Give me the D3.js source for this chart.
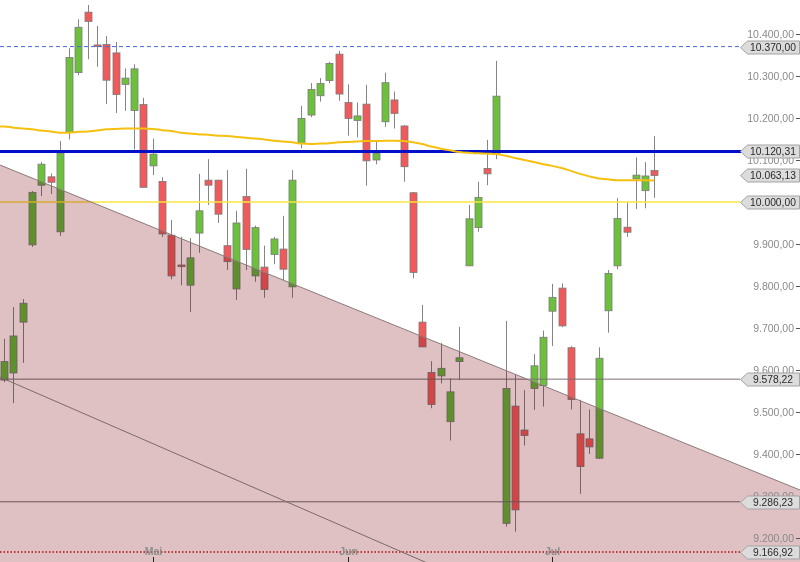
<!DOCTYPE html>
<html><head><meta charset="utf-8">
<script src="https://cdn.jsdelivr.net/npm/d3@7/dist/d3.min.js"></script>
<style>html,body{margin:0;padding:0;background:#fff;overflow:hidden}</style>
</head><body><svg id="c" width="800" height="562"></svg>
<script>
// ---- data ----
const opens  = [9576,9593,9714,9898,10040,10060,9929,10166,10308,10452,10374,10375,10355,10280,10218,10232,10086,10049,9921,9850,9802,9926,10052,10052,9896,9793,10013,9824,9845,9875,9888,9798,10140,10207,10253,10289,10352,10237,10194,10233,10100,10191,10243,10181,10022,9714,9594,9586,9477,9620,9848,9939,10080,10116,9235,9514,9457,9556,9563,9740,9795,9653,9448,9436,9390,9741,9848,9940,10055,10027,10075];
const highs  = [9674,9750,9769,10026,10095,10068,10145,10366,10435,10469,10419,10395,10381,10318,10328,10248,10151,10059,9957,9917,9914,10067,10102,10052,10076,9979,10079,9944,9896,9917,9967,10076,10229,10283,10295,10334,10360,10280,10237,10279,10144,10308,10263,10183,10024,9755,9621,9664,9580,9703,9993,10048,10148,10336,9717,9588,9552,9638,9694,9805,9806,9657,9529,9506,9654,9838,10009,9999,10106,10095,10157];
const lows   = [9571,9521,9617,9893,10014,10019,9919,10149,10302,10340,10322,10233,10212,10217,10125,10035,10064,9917,9816,9802,9738,9879,9993,9950,9838,9767,9838,9810,9772,9852,9814,9772,10128,10202,10239,10283,10241,10158,10154,10039,10090,10179,10175,10048,9818,9655,9509,9568,9432,9576,9848,9929,10040,10102,9227,9215,9420,9505,9513,9657,9702,9506,9305,9400,9388,9689,9840,9917,9983,9985,10010];
const closes = [9620,9681,9759,10023,10090,10047,10116,10344,10416,10430,10370,10290,10256,10295,10317,10035,10114,9924,9824,9846,9867,9979,10040,9971,9858,9950,9887,9939,9792,9912,9840,10052,10199,10268,10282,10330,10257,10199,10205,10098,10116,10284,10211,10084,9832,9655,9518,9604,9548,9629,9960,10011,10067,10252,9556,9267,9444,9610,9678,9773,9705,9530,9370,9417,9628,9830,9961,9928,10064,10062,10063.13];
const movingAvg = [10180,10177,10175,10173,10170,10168,10165,10165,10167,10168,10170,10173,10174,10175,10175,10175,10174,10171,10169,10165,10163,10161,10160,10158,10157,10155,10153,10151,10149,10146,10144,10142,10139,10138,10139,10140,10142,10143,10144,10145,10145,10146,10146,10145,10142,10138,10132,10127,10123,10119,10117,10116,10115,10114,10110,10105,10100,10095,10090,10086,10081,10074,10067,10061,10056,10054,10052,10052,10052,10052,10051];
const monthLabels = ["Mai","Jun","Jul"];
const monthIndex  = [16,37,59];
const yTicks = [10400,10300,10200,10100,10000,9900,9800,9700,9600,9500,9400,9300,9200];
const levelValues = [10370,10120.31,10063.13,10000,9578.22,9286.23,9166.92];
// trend channel (index, value) endpoints
const trendUpper = [[-0.44,10088],[85.7,9314]];
const trendLower = [[-0.44,9583],[45.6,9140]];

// ---- scales ----
const W=800,H=562;
const x = d3.scaleLinear().domain([0,70]).range([4.1,654.4]);
const y = d3.scaleLinear().domain([9200,10400]).range([538,34]);
const svg = d3.select("#c");
const fmt = v => d3.formatLocale({decimal:",",thousands:".",grouping:[3],currency:["","€"]}).format(",.2f")(v);

const candles = opens.map((o,i)=>({i,o,h:highs[i],l:lows[i],c:closes[i]}));
const gC = svg.append("g");
const bw = 7;
gC.selectAll("line.w").data(candles).join("line")
  .attr("x1",d=>Math.round(x(d.i))+0.5).attr("x2",d=>Math.round(x(d.i))+0.5)
  .attr("y1",d=>y(d.h)).attr("y2",d=>y(d.l))
  .attr("stroke","#858585").attr("stroke-width",1);
gC.selectAll("rect").data(candles).join("rect")
  .attr("x",d=>Math.round(x(d.i))-bw/2+0.5).attr("width",bw)
  .attr("y",d=>y(Math.max(d.o,d.c)))
  .attr("height",d=>Math.max(1.5,Math.abs(y(d.o)-y(d.c))))
  .attr("fill",d=>d.c>=d.o?"#6cc03c":"#f05a5a")
  .attr("stroke","#7a7a7a").attr("stroke-width",0.8);

// horizontal levels
const hl = svg.append("g");
hl.append("line").attr("x1",0).attr("x2",740).attr("y1",y(10370)).attr("y2",y(10370))
  .attr("stroke","#4a66dd").attr("stroke-width",1).attr("stroke-dasharray","4,3");
hl.append("line").attr("x1",0).attr("x2",740).attr("y1",y(10000)).attr("y2",y(10000))
  .attr("stroke","#f7e640").attr("stroke-width",1.5);
hl.append("line").attr("x1",0).attr("x2",740).attr("y1",y(9578.22)).attr("y2",y(9578.22))
  .attr("stroke","#7d7070").attr("stroke-width",1);
hl.append("line").attr("x1",0).attr("x2",740).attr("y1",y(9286.23)).attr("y2",y(9286.23))
  .attr("stroke","#7d7070").attr("stroke-width",1);
hl.append("line").attr("x1",0).attr("x2",740).attr("y1",y(9166.92)).attr("y2",y(9166.92))
  .attr("stroke","#d01010").attr("stroke-width",1.5).attr("stroke-dasharray","1.5,2");

// moving average
const maPts = movingAvg.map((v,i)=>[x(i),y(v)]);
maPts.unshift([0,y(movingAvg[0])]);
svg.append("path").attr("d",d3.line().curve(d3.curveMonotoneX)(maPts))
  .attr("fill","none").attr("stroke","#f5c010").attr("stroke-width",2);

hl.append("line").attr("x1",0).attr("x2",W).attr("y1",y(10120.31)).attr("y2",y(10120.31))
  .attr("stroke","#0010c8").attr("stroke-width",3);

// shaded channel (multiply)
const lu = d3.scaleLinear().domain([trendUpper[0][0],trendUpper[1][0]]).range([trendUpper[0][1],trendUpper[1][1]]);
const ll = d3.scaleLinear().domain([trendLower[0][0],trendLower[1][0]]).range([trendLower[0][1],trendLower[1][1]]);
const xi0 = x.invert(0), xi1 = x.invert(W);
const poly = [[0,y(lu(xi0))],[W,y(lu(xi1))],[W,H],[0,H]];
svg.append("path").attr("d","M"+poly.join("L")+"Z")
  .attr("fill","#dfc0c3").style("mix-blend-mode","multiply");
svg.append("line").attr("x1",0).attr("y1",y(lu(xi0))).attr("x2",W).attr("y2",y(lu(xi1)))
  .attr("stroke","#8c7a7a").attr("stroke-width",1);
const lowEndX = x(trendLower[1][0]);
svg.append("line").attr("x1",0).attr("y1",y(ll(xi0))).attr("x2",lowEndX).attr("y2",y(ll(trendLower[1][0])))
  .attr("stroke","#7a6a6a").attr("stroke-width",1);

// y axis ticks (a tick fully hidden under a price tag is not drawn)
const ax = svg.append("g").attr("font-family","Liberation Sans, Arial, sans-serif").attr("font-size","10.5px");
yTicks.forEach(t=>{
  const hidden = levelValues.some(v=>Math.abs(y(v)-y(t))<2);
  if(!hidden) ax.append("text").attr("x",794).attr("y",y(t)+3.8).attr("text-anchor","end").attr("fill","#8a8a8a").text(fmt(t));
  ax.append("line").attr("x1",796).attr("x2",800).attr("y1",y(t)+0.5).attr("y2",y(t)+0.5).attr("stroke","#555");
});

// price tags
levelValues.forEach(v=>{
  const yy = Math.round(y(v))+0.5;
  ax.append("path").attr("d",`M740.5,${yy}L747.5,${yy-6.5}L799.5,${yy-6.5}L799.5,${yy+6.5}L747.5,${yy+6.5}Z`)
    .attr("fill","#dcdcdc").attr("stroke","#a3a3a3").attr("stroke-width",1);
  ax.append("text").attr("x",773).attr("y",yy+3.8).attr("text-anchor","middle").attr("fill","#2a2a2a")
    .attr("font-size","10.3px").text(fmt(v));
});

// x axis months
monthLabels.forEach((m,k)=>{
  const xx = Math.round(x(monthIndex[k]))+0.5;
  ax.append("text").attr("x",xx).attr("y",555).attr("text-anchor","middle").attr("fill","#8e8e8e")
    .attr("font-weight","bold").text(m);
  ax.append("line").attr("x1",xx).attr("x2",xx).attr("y1",557).attr("y2",562).attr("stroke","#222");
});
</script></body></html>
